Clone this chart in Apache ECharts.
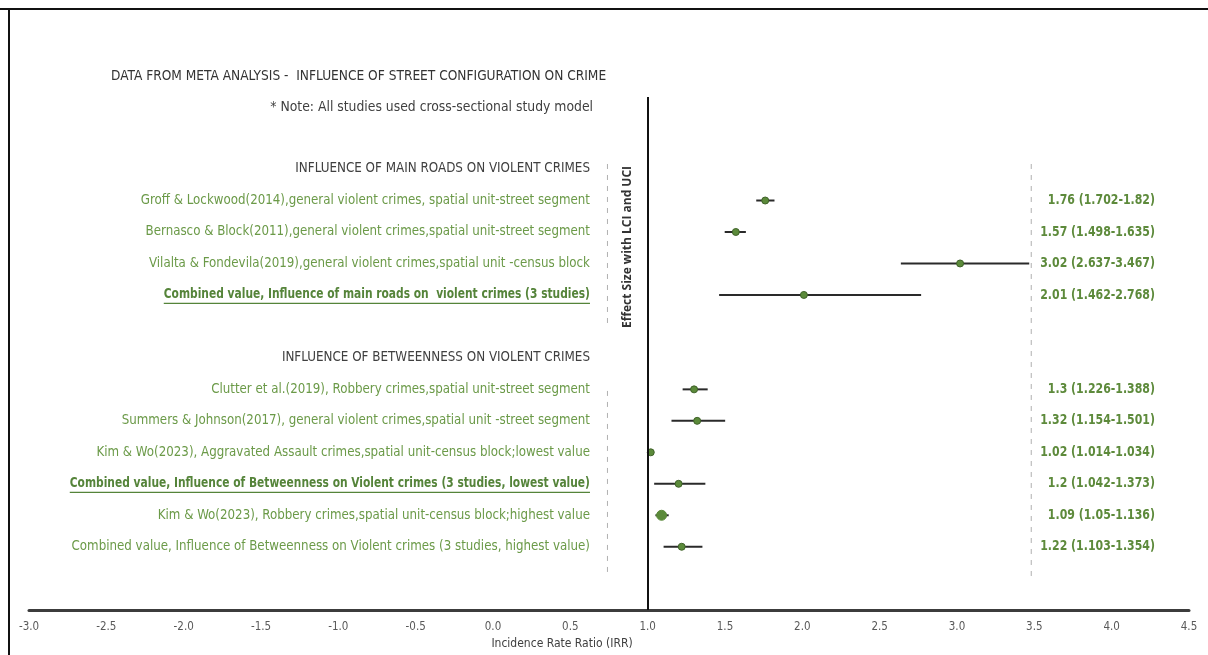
<!DOCTYPE html>
<html>
<head>
<meta charset="utf-8">
<script src="https://cdn.jsdelivr.net/npm/echarts@6/dist/echarts.min.js"></script>
<style>
html,body{margin:0;padding:0;background:#fff;}
#chart{width:1208px;height:655px;}
</style>
</head>
<body>
<div id="chart"></div>
<script>
// ---------------- data ----------------
const titleText = 'DATA FROM META ANALYSIS -  INFLUENCE OF STREET CONFIGURATION ON CRIME';
const noteText = '* Note: All studies used cross-sectional study model';
const groupHeaders = ['INFLUENCE OF MAIN ROADS ON VIOLENT CRIMES', 'INFLUENCE OF BETWEENNESS ON VIOLENT CRIMES'];
const studies = [
  'Groff & Lockwood(2014),general violent crimes, spatial unit-street segment',
  'Bernasco & Block(2011),general violent crimes,spatial unit-street segment',
  'Vilalta & Fondevila(2019),general violent crimes,spatial unit -census block',
  'Combined value, Influence of main roads on  violent crimes (3 studies)',
  'Clutter et al.(2019), Robbery crimes,spatial unit-street segment',
  'Summers & Johnson(2017), general violent crimes,spatial unit -street segment',
  'Kim & Wo(2023), Aggravated Assault crimes,spatial unit-census block;lowest value',
  'Combined value, Influence of Betweenness on Violent crimes (3 studies, lowest value)',
  'Kim & Wo(2023), Robbery crimes,spatial unit-census block;highest value',
  'Combined value, Influence of Betweenness on Violent crimes (3 studies, highest value)'
];
const studyGroup = [0, 0, 0, 0, 1, 1, 1, 1, 1, 1];
const highlighted = [0, 0, 0, 1, 0, 0, 0, 1, 0, 0];
const irr = [1.76, 1.57, 3.02, 2.01, 1.3, 1.32, 1.02, 1.2, 1.09, 1.22];
const lci = [1.702, 1.498, 2.637, 1.462, 1.226, 1.154, 1.014, 1.042, 1.05, 1.103];
const uci = [1.82, 1.635, 3.467, 2.768, 1.388, 1.501, 1.034, 1.373, 1.136, 1.354];
const valueLabels = ['1.76 (1.702-1.82)', '1.57 (1.498-1.635)', '3.02 (2.637-3.467)', '2.01 (1.462-2.768)',
  '1.3 (1.226-1.388)', '1.32 (1.154-1.501)', '1.02 (1.014-1.034)', '1.2 (1.042-1.373)',
  '1.09 (1.05-1.136)', '1.22 (1.103-1.354)'];
const xMin = -3, xMax = 4.5, xStep = 0.5;
const xAxisName = 'Incidence Rate Ratio (IRR)';
const yAxisName = 'Effect Size with LCI and UCI';
const nullLine = 1;
// dashed guide lines: [x, rowFrom, rowTo]
const guideLines = [[0.74, -0.16, 5.05], [0.74, 7.05, 12.95], [3.48, -0.16, 13.1]];

// ---------------- layout ----------------
const W = 1208, H = 655;
const FONT = '"Liberation Sans Narrow", "DejaVu Sans Condensed", sans-serif';
const GREEN = '#6b9a48', GREEN_DARK = '#55843a', GRAY_TXT = '#404040';
const gridTop = 97, gridBottom = 38, gridLeft = 29, gridRight = 19;
const rowPx = 31.9, firstRowPx = 170;
const plotH = H - gridTop - gridBottom;
const yMin = -(firstRowPx - gridTop) / rowPx;
const yMax = yMin + plotH / rowPx;
const labelX = 0.627;   // data-x where row labels end
const valueX = 4.28;    // data-x where value labels end
const BOLD_SCALE = 0.9, VALUE_SCALE = 0.87;

// rows: header, studies, blank, header, studies
const headerRows = [];
const studyRows = [];
let r = 0;
groupHeaders.forEach((h, g) => {
  if (g > 0) r++;
  headerRows.push(r); r++;
  studies.forEach((s, i) => { if (studyGroup[i] === g) { studyRows[i] = r; r++; } });
});

const measureCtx = document.createElement('canvas').getContext('2d');
function textWidth(t, font) { measureCtx.font = font; return measureCtx.measureText(t).width; }

const chart = echarts.init(document.getElementById('chart'), null, {renderer: 'canvas'});

const labelData = [];
groupHeaders.forEach((h, g) => labelData.push({value: [labelX, headerRows[g]], text: h, kind: 'header'}));
studies.forEach((s, i) => labelData.push({value: [labelX, studyRows[i]], text: s, kind: highlighted[i] ? 'bold' : 'study'}));

const ciData = studies.map((s, i) => [irr[i], studyRows[i], lci[i], uci[i], i]);
const valData = studies.map((s, i) => ({value: [valueX, studyRows[i]], text: valueLabels[i]}));

const guideSeries = guideLines.map(g => ({
  type: 'line', silent: true, symbol: 'none', animation: false,
  data: [[g[0], g[1]], [g[0], g[2]]],
  lineStyle: {color: '#b0b0b0', width: 1, type: [5, 6]}
}));

chart.setOption({
  animation: false,
  backgroundColor: '#fff',
  title: [
    {text: titleText, left: 106, top: 64, textStyle: {fontFamily: FONT, fontSize: 13.6, fontWeight: 'normal', color: '#333'}},
    {text: noteText, right: W - 598, top: 95, textStyle: {fontFamily: FONT, fontSize: 13.8, fontWeight: 'normal', color: GRAY_TXT}}
  ],
  grid: {left: gridLeft, right: gridRight, top: gridTop, bottom: gridBottom, containLabel: false},
  xAxis: {
    type: 'value', min: xMin, max: xMax, interval: xStep,
    axisLine: {show: true, onZero: false, lineStyle: {color: '#3c3c3c', width: 3}},
    axisTick: {show: false}, splitLine: {show: false},
    axisLabel: {color: '#595959', fontSize: 11.5, fontFamily: FONT, margin: 11, formatter: v => v.toFixed(1)},
    name: xAxisName, nameLocation: 'middle', nameGap: 26,
    nameTextStyle: {color: '#404040', fontSize: 12, fontFamily: FONT, padding: [0, 94, 0, 0]}
  },
  yAxis: {type: 'value', inverse: true, min: yMin, max: yMax, show: false},
  graphic: [
    {type: 'line', shape: {x1: 0, y1: 9, x2: W, y2: 9}, style: {stroke: '#111', lineWidth: 2}, silent: true},
    {type: 'line', shape: {x1: 9, y1: 9, x2: 9, y2: H}, style: {stroke: '#111', lineWidth: 2}, silent: true},
    {type: 'text', x: 628, y: 247, rotation: Math.PI / 2,
      style: {text: yAxisName, font: 'bold 12px "Open Sans", sans-serif', fill: '#333', textAlign: 'center', textVerticalAlign: 'middle'}}
  ],
  series: guideSeries.concat([
    {
      type: 'line', silent: true, symbol: 'none', data: [],
      markLine: {silent: true, symbol: 'none', label: {show: false},
        lineStyle: {color: '#111', width: 2, type: 'solid'}, data: [{xAxis: nullLine}]}
    },
    {
      type: 'custom', silent: true,
      data: labelData,
      renderItem: (params, api) => {
        const d = labelData[params.dataIndex];
        const p = api.coord(d.value);
        const bold = d.kind === 'bold';
        const size = d.kind === 'header' ? 13.3 : 13.2;
        const font = (bold ? 'bold ' : '') + size + 'px ' + FONT;
        const fill = d.kind === 'header' ? GRAY_TXT : (bold ? GREEN_DARK : GREEN);
        const sx = bold ? BOLD_SCALE : 1;
        const children = [{type: 'text', x: p[0], y: p[1], scaleX: sx,
          style: {text: d.text, x: 0, y: 0, textAlign: 'right', textVerticalAlign: 'middle', font: font, fill: fill}}];
        if (bold) {
          const w = textWidth(d.text, font) * sx;
          children.push({type: 'line', shape: {x1: p[0] - w, y1: p[1] + 8.5, x2: p[0], y2: p[1] + 8.5}, style: {stroke: GREEN_DARK, lineWidth: 1.2}});
        }
        return {type: 'group', children: children};
      }
    },
    {
      type: 'custom', silent: true,
      data: ciData,
      renderItem: (params, api) => {
        const y = api.value(1);
        const pc = api.coord([api.value(0), y]);
        const pl = api.coord([api.value(2), y]);
        const pu = api.coord([api.value(3), y]);
        const idx = api.value(4);
        const big = idx === 8;
        return {type: 'group', children: [
          {type: 'line', shape: {x1: pl[0], y1: pl[1], x2: pu[0], y2: pu[1]}, style: {stroke: '#2a2a2a', lineWidth: 2}},
          {type: 'circle', shape: {cx: pc[0], cy: pc[1], r: big ? 5 : 3.5}, style: {fill: '#5b8a3a', stroke: big ? '#5b8a3a' : '#3f6229', lineWidth: 1}}
        ]};
      }
    },
    {
      type: 'custom', silent: true,
      data: valData,
      renderItem: (params, api) => {
        const d = valData[params.dataIndex];
        const p = api.coord(d.value);
        return {type: 'text', x: p[0], y: p[1], scaleX: VALUE_SCALE,
          style: {text: d.text, x: 0, y: 0, textAlign: 'right', textVerticalAlign: 'middle', font: 'bold 14px ' + FONT, fill: '#5d8a3b'}};
      }
    }
  ])
});
</script>
</body>
</html>
